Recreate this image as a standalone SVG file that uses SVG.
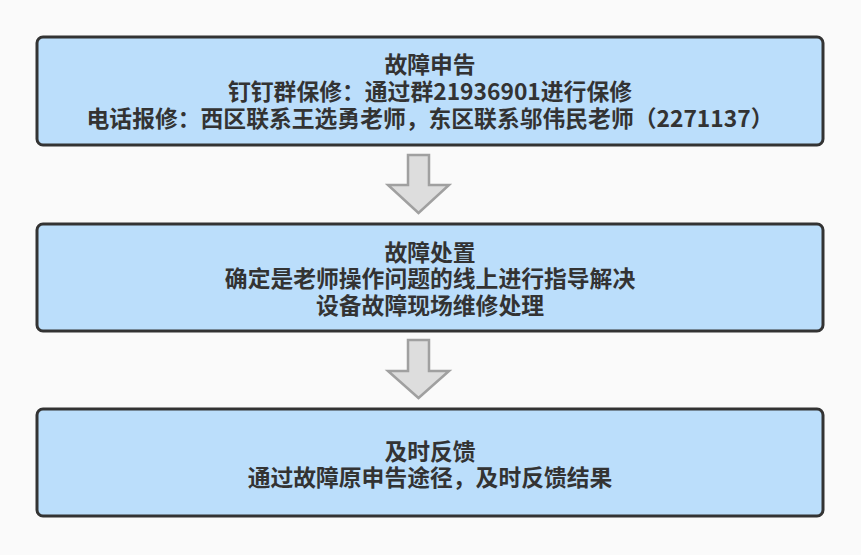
<svg xmlns="http://www.w3.org/2000/svg" width="861" height="555" viewBox="0 0 861 555">
<style>
.box{fill:#bbdefb;stroke:#333;stroke-width:3}
.t{font-family:"Noto Sans CJK SC","Noto Sans",sans-serif;font-weight:bold;font-size:22.8px;fill:#333;text-anchor:middle}
.arr{fill:#dddddd;stroke:#a0a0a0;stroke-width:2.5;stroke-linejoin:miter}
</style>
<rect width="861" height="555" fill="#fafafa"/>
<g id="connectors">
<path class="arr" d="M408,155 H429 V185 H449 L418.5,213 L388,185 H408 Z"/>
<path class="arr" d="M408,340 H429 V371 H449 L418.5,398 L388,371 H408 Z"/>
</g>
<g id="node1">
<rect class="box" x="37" y="37" width="786" height="108" rx="6"/>
<text class="t"><tspan x="430" y="73">故障申告</tspan><tspan x="430" y="100">钉钉群保修：通过群21936901进行保修</tspan><tspan x="430" y="127">电话报修：西区联系王选勇老师，东区联系邬伟民老师（2271137）</tspan></text>
</g>
<g id="node2">
<rect class="box" x="37" y="224" width="786" height="107" rx="6"/>
<text class="t"><tspan x="430" y="261">故障处置</tspan><tspan x="430" y="287">确定是老师操作问题的线上进行指导解决</tspan><tspan x="430" y="314">设备故障现场维修处理</tspan></text>
</g>
<g id="node3">
<rect class="box" x="37" y="409" width="786" height="107" rx="6"/>
<text class="t"><tspan x="430" y="460">及时反馈</tspan><tspan x="430" y="486">通过故障原申告途径，及时反馈结果</tspan></text>
</g>
</svg>
